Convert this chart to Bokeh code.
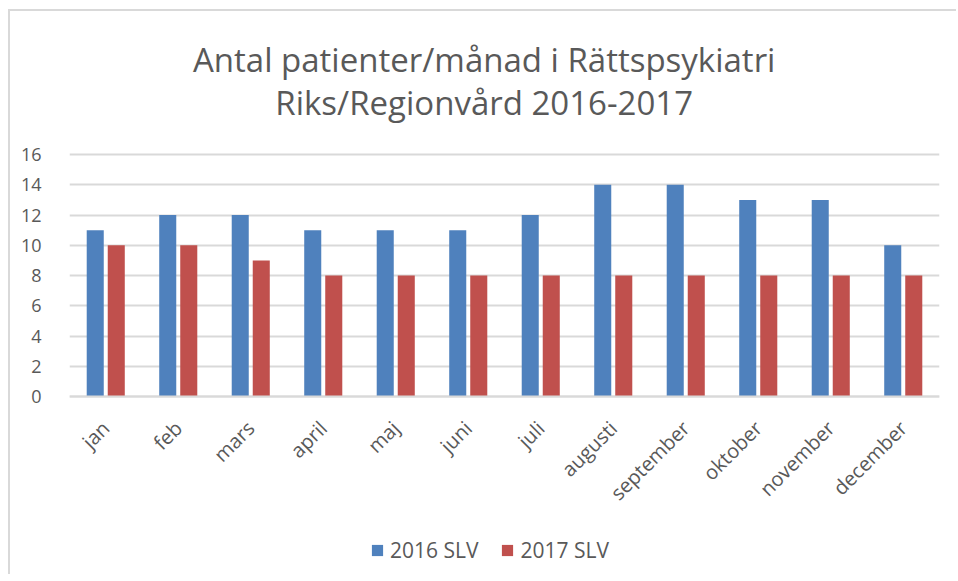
from bokeh.plotting import figure
from bokeh.models import ColumnDataSource, FactorRange, Range1d, Label, Legend, LegendItem, FixedTicker
from bokeh.transform import dodge
from bokeh.embed import file_html
from bokeh.resources import INLINE
import math

months = ["jan", "feb", "mars", "april", "maj", "juni", "juli", "augusti",
          "september", "oktober", "november", "december"]
slv2016 = [11, 12, 12, 11, 11, 11, 12, 14, 14, 13, 13, 10]
slv2017 = [10, 10, 9, 8, 8, 8, 8, 8, 8, 8, 8, 8]
series_names = ["2016 SLV", "2017 SLV"]
y_ticks = [0, 2, 4, 6, 8, 10, 12, 14, 16]
title_lines = ["Antal patienter/månad i Rättspsykiatri", "Riks/Regionvård 2016-2017"]

FONT = "Open Sans"
GRAY = "#595959"
GRID = "#d9d9d9"

src = ColumnDataSource(dict(month=months, a=slv2016, b=slv2017))

# frame covers the whole height; y=0..16 sits where the reference plot area is
p = figure(width=948, height=565, output_backend="svg", toolbar_location=None,
           x_range=FactorRange(factors=months, range_padding=0), y_range=Range1d(-11.9, 25.455),
           min_border_left=59, min_border_right=19, min_border_top=0, min_border_bottom=0,
           title=None, margin=(9, 0, 0, 8),
           styles={"border-left": "2px solid #d9d9d9", "border-top": "2px solid #d9d9d9"})
p.outline_line_color = None

r1 = p.vbar(x=dodge("month", -0.145, range=p.x_range), top="a", width=0.235, source=src,
            fill_color="#4F81BD", line_color=None)
r2 = p.vbar(x=dodge("month", 0.145, range=p.x_range), top="b", width=0.235, source=src,
            fill_color="#C0504D", line_color=None)

for txt, yy in zip(title_lines, [22.25, 19.45]):
    p.add_layout(Label(x=5.72, y=yy, text=txt, text_align="center", text_baseline="middle",
                       text_font=FONT, text_font_size="33px", text_color=GRAY))

p.yaxis.ticker = FixedTicker(ticks=y_ticks)
p.yaxis.axis_line_color = None
p.yaxis.major_tick_line_color = None
p.yaxis.minor_tick_line_color = None
p.yaxis.major_label_standoff = 22
p.yaxis.major_label_text_font = FONT
p.yaxis.major_label_text_font_size = "18px"
p.yaxis.major_label_text_color = GRAY

p.xaxis.fixed_location = 0
p.xaxis.axis_line_color = GRID
p.xaxis.axis_line_width = 2
p.xaxis.major_tick_line_color = None
p.xaxis.minor_tick_line_color = None
p.xaxis.major_label_orientation = math.pi / 4
p.xaxis.major_label_standoff = 22
p.xaxis.major_label_text_font = FONT
p.xaxis.major_label_text_font_size = "20px"
p.xaxis.major_label_text_color = GRAY

p.xgrid.grid_line_color = None
p.ygrid.grid_line_color = GRID
p.ygrid.grid_line_width = 2

legend = Legend(items=[LegendItem(label=series_names[0], renderers=[r1]),
                       LegendItem(label=series_names[1], renderers=[r2])],
                orientation="horizontal", location=(301, 12),
                label_text_font=FONT, label_text_font_size="21px", label_text_color=GRAY,
                glyph_width=14, glyph_height=14, label_standoff=6, spacing=22,
                border_line_color=None, background_fill_alpha=0, margin=0, padding=0)
p.add_layout(legend, "center")

open("out.html", "w").write(file_html(p, INLINE))
